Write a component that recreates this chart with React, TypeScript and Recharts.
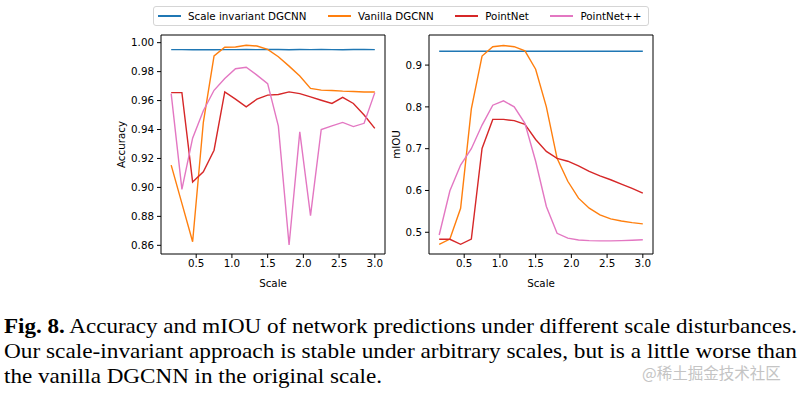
import React from "react";
import { LineChart, Line, XAxis, YAxis, ReferenceArea, Label } from "recharts";

// scale factors on the x axis
const scales = [0.15, 0.3, 0.45, 0.6, 0.75, 0.9, 1.05, 1.2, 1.35, 1.5, 1.65, 1.8, 1.95, 2.1, 2.25, 2.4, 2.55, 2.7, 2.85, 3.0];

// accuracy per method
const accScaleInvariant = [0.9952, 0.9952, 0.9951, 0.9952, 0.9951, 0.9952, 0.9952, 0.9953, 0.9952, 0.9953, 0.9953, 0.9951, 0.9953, 0.9952, 0.9953, 0.9952, 0.9951, 0.9953, 0.9953, 0.9952];
const accVanilla = [0.9154, 0.889, 0.8625, 0.945, 0.9908, 0.9968, 0.997, 0.9982, 0.9977, 0.9954, 0.9903, 0.9838, 0.977, 0.9684, 0.9672, 0.967, 0.9665, 0.9663, 0.9659, 0.9659];
const accPointNet = [0.9655, 0.9655, 0.9038, 0.9108, 0.9257, 0.966, 0.961, 0.9556, 0.961, 0.9638, 0.9642, 0.966, 0.9648, 0.9625, 0.9602, 0.958, 0.9622, 0.958, 0.95, 0.9408];
const accPointNetPP = [0.9648, 0.8987, 0.934, 0.953, 0.9671, 0.9752, 0.982, 0.983, 0.9776, 0.9717, 0.9423, 0.8602, 0.9384, 0.8805, 0.94, 0.9425, 0.9449, 0.942, 0.9443, 0.9655];

// mIOU per method
const miouScaleInvariant = [0.933, 0.933, 0.933, 0.933, 0.933, 0.933, 0.933, 0.933, 0.933, 0.933, 0.933, 0.933, 0.933, 0.933, 0.933, 0.933, 0.933, 0.933, 0.933, 0.933];
const miouVanilla = [0.4713, 0.4838, 0.5574, 0.795, 0.9216, 0.944, 0.947, 0.944, 0.934, 0.89, 0.8, 0.6768, 0.622, 0.5816, 0.5576, 0.5416, 0.532, 0.527, 0.523, 0.52];
const miouPointNet = [0.4833, 0.4833, 0.4713, 0.4838, 0.7007, 0.77, 0.77, 0.767, 0.758, 0.722, 0.6936, 0.6768, 0.67, 0.659, 0.6456, 0.635, 0.6256, 0.615, 0.605, 0.5935];
const miouPointNetPP = [0.4935, 0.5993, 0.6608, 0.7, 0.7565, 0.804, 0.8146, 0.8, 0.7605, 0.67, 0.5616, 0.4976, 0.486, 0.4815, 0.48, 0.4795, 0.4795, 0.48, 0.481, 0.482];

const seriesNames = ["Scale invariant DGCNN", "Vanilla DGCNN", "PointNet", "PointNet++"];
const seriesColors = ["#1f77b4", "#ff7f0e", "#d62728", "#e377c2"];
const seriesKeys = ["si", "vanilla", "pn", "pnpp"];

const scaleTicks = [0.5, 1.0, 1.5, 2.0, 2.5, 3.0];
const accuracyTicks = [0.86, 0.88, 0.9, 0.92, 0.94, 0.96, 0.98, 1.0];
const miouTicks = [0.5, 0.6, 0.7, 0.8, 0.9];

const captionLines = [
  "Accuracy and mIOU of network predictions under different scale disturbances.",
  "Our scale-invariant approach is stable under arbitrary scales, but is a little worse than",
  "the vanilla DGCNN in the original scale.",
];

const buildRows = (cols: number[][]) =>
  scales.map((s, i) => {
    const row: Record<string, number> = { scale: s };
    seriesKeys.forEach((k, j) => (row[k] = cols[j][i]));
    return row;
  });

const accRows = buildRows([accScaleInvariant, accVanilla, accPointNet, accPointNetPP]);
const miouRows = buildRows([miouScaleInvariant, miouVanilla, miouPointNet, miouPointNetPP]);

const font = "'DejaVu Sans', sans-serif";
const tickStyle = { fill: "#000", fontSize: 10.3, fontFamily: font };
const xDomain: [number, number] = [0.0075, 3.1425];

interface PanelProps {
  rows: Record<string, number>[];
  yDomain: [number, number];
  yTicks: number[];
  digits: number;
  yLabel: string;
  labelOffset: number;
  left: number;
}

const Panel: React.FC<PanelProps> = ({ rows, yDomain, yTicks, digits, yLabel, labelOffset, left }) => (
  <div style={{ position: "absolute", left, top: 30 }}>
    <LineChart width={300} height={265} data={rows} margin={{ top: 5, right: 10, bottom: 0, left: 6 }}>
      <XAxis
        dataKey="scale"
        type="number"
        domain={xDomain}
        ticks={scaleTicks}
        allowDataOverflow
        tickFormatter={(v: number) => v.toFixed(1)}
        tick={tickStyle}
        tickSize={4}
        tickMargin={2}
        tickLine={{ stroke: "#000" }}
        axisLine={false}
        height={41}
      >
        <Label value="Scale" position="insideBottom" offset={8} style={{ ...tickStyle }} />
      </XAxis>
      <YAxis
        type="number"
        domain={yDomain}
        ticks={yTicks}
        allowDataOverflow
        tickFormatter={(v: number) => v.toFixed(digits)}
        tick={tickStyle}
        tickSize={4}
        tickMargin={3}
        tickLine={{ stroke: "#000" }}
        axisLine={false}
        width={60}
      >
        <Label
          value={yLabel}
          angle={-90}
          position="insideLeft"
          offset={labelOffset}
          textAnchor="middle"
          style={{ ...tickStyle, textAnchor: "middle" }}
        />
      </YAxis>
      {seriesKeys.map((k, i) => (
        <Line
          key={k}
          dataKey={k}
          type="linear"
          stroke={seriesColors[i]}
          strokeWidth={1.4}
          dot={false}
          isAnimationActive={false}
        />
      ))}
      <ReferenceArea
        x1={xDomain[0]}
        x2={xDomain[1]}
        y1={yDomain[0]}
        y2={yDomain[1]}
        fill="none"
        fillOpacity={0}
        stroke="#000"
        strokeWidth={1}
      />
    </LineChart>
  </div>
);

const App: React.FC = () => (
  <div style={{ position: "absolute", left: 0, top: 0, width: 801, height: 393, background: "#fff" }}>
    {/* shared legend */}
    <div
      style={{
        position: "absolute",
        left: 153,
        top: 6,
        width: 490,
        height: 18,
        border: "1px solid #d5d5d5",
        borderRadius: 3,
        background: "#fff",
        display: "flex",
        alignItems: "center",
        gap: 21.5,
        paddingLeft: 4,
        boxSizing: "content-box",
        fontFamily: font,
        fontSize: 10.3,
        color: "#000",
      }}
    >
      {seriesNames.map((n, i) => (
        <div key={n} style={{ display: "flex", alignItems: "center" }}>
          <span style={{ width: 23, height: 1.6, background: seriesColors[i], marginRight: 7 }} />
          <span>{n}</span>
        </div>
      ))}
    </div>

    <Panel rows={accRows} yDomain={[0.854, 1.0053]} yTicks={accuracyTicks} digits={2} yLabel="Accuracy" labelOffset={20} left={95} />
    <Panel rows={miouRows} yDomain={[0.448, 0.972]} yTicks={miouTicks} digits={1} yLabel="mIOU" labelOffset={27} left={363} />

    <svg style={{ position: "absolute", left: 0, top: 300 }} width={801} height={93}>
      <g fontFamily="'Liberation Serif', serif" fontSize={21} fill="#000">
        <text x={4} y={33} textLength={793} lengthAdjust="spacingAndGlyphs">
          <tspan fontWeight="bold">Fig. 8.</tspan> {captionLines[0]}
        </text>
        <text x={4} y={58} textLength={793} lengthAdjust="spacingAndGlyphs">
          {captionLines[1]}
        </text>
        <text x={4} y={83} textLength={378} lengthAdjust="spacingAndGlyphs">
          {captionLines[2]}
        </text>
      </g>
      <text x={642} y={79} fontFamily="'Noto Sans CJK SC', sans-serif" fontSize={15.5} fill="#c4c4c4">
        @稀土掘金技术社区
      </text>
    </svg>
  </div>
);

export default App;
